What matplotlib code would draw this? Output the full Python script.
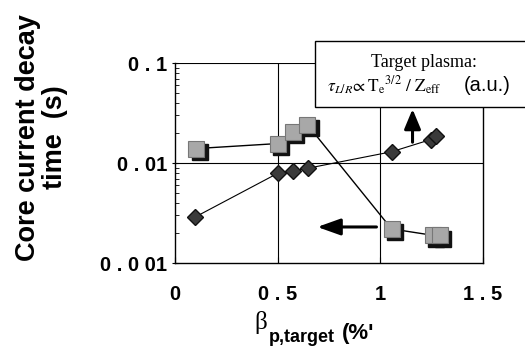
import matplotlib
matplotlib.use("Agg")
import matplotlib.pyplot as plt
import matplotlib.transforms as mtransforms
from matplotlib.patches import Rectangle
from matplotlib.ticker import LogLocator, NullFormatter, FixedLocator

# core current decay time (squares)
beta_sq = [0.105, 0.50, 0.575, 0.645, 1.055, 1.255, 1.29]
tau_sq = [0.014, 0.0157, 0.0205, 0.0243, 0.0022, 0.0019, 0.0019]

# target plasma tau_L/R (diamonds)
beta_dm = [0.10, 0.50, 0.575, 0.648, 1.055, 1.245, 1.27]
tau_dm = [0.0029, 0.0079, 0.0084, 0.0089, 0.013, 0.0172, 0.0188]

x_ticks = [0, 0.5, 1, 1.5]
x_labels = ["0", "0 . 5", "1", "1 . 5"]
y_ticks = [0.001, 0.01, 0.1]
y_labels = ["0 . 0 01", "0 . 01", "0 . 1"]

plt.rcParams['mathtext.fontset'] = 'stix'

fig = plt.figure(figsize=(5.25, 3.49), dpi=100)
ax = fig.add_axes([0.333, 0.246, 0.587, 0.573])
ax.set_yscale('log')
ax.set_xlim(0, 1.5)
ax.set_ylim(0.001, 0.1)

# grid
for x in [0.5, 1.0]:
    ax.axvline(x, color='black', lw=0.8, zorder=1)
ax.axhline(0.01, color='black', lw=0.8, zorder=1)
ax.axhline(0.1, color='black', lw=0.8, zorder=1)

# lines
ax.plot(beta_sq, tau_sq, color='black', lw=1.0, zorder=2)
ax.plot(beta_dm, tau_dm, color='black', lw=0.8, zorder=2)

# shadows then markers
shadow = ax.transData + mtransforms.ScaledTranslation(2.5 / 72, -2.5 / 72, fig.dpi_scale_trans)
ax.plot(beta_sq, tau_sq, ls='none', marker='s', ms=11, mfc='#111111', mec='#111111',
        transform=shadow, zorder=3)
ax.plot(beta_sq, tau_sq, ls='none', marker='s', ms=11, mfc='#a8a8a8', mec='#777777',
        mew=0.8, zorder=4)
ax.plot(beta_dm, tau_dm, ls='none', marker='D', ms=8.5, mfc='#3a3a3a', mec='#111111',
        mew=1.0, zorder=4)

# arrows
ax.annotate('', xy=(1.157, 0.037), xytext=(1.157, 0.0152),
            arrowprops=dict(arrowstyle='-|>,head_width=0.5,head_length=1.2',
                            color='black', lw=2.2), zorder=5)
ax.annotate('', xy=(0.68, 0.0023), xytext=(0.995, 0.0023),
            arrowprops=dict(arrowstyle='-|>,head_width=0.5,head_length=1.4',
                            color='black', lw=2.2), zorder=5)

# axes style
ax.spines['top'].set_visible(False)
for s in ['left', 'bottom', 'right']:
    ax.spines[s].set_linewidth(1.0)

ax.xaxis.set_major_locator(FixedLocator(x_ticks))
ax.set_xticklabels(x_labels, fontsize=14.5, fontweight='bold', family='Liberation Sans')
ax.tick_params(axis='x', which='major', length=4, direction='in', pad=16)
ax.yaxis.set_major_locator(FixedLocator(y_ticks))
ax.set_yticklabels(y_labels, fontsize=14.5, fontweight='bold', family='Liberation Sans')
ax.yaxis.set_minor_locator(LogLocator(base=10, subs=range(2, 10)))
ax.yaxis.set_minor_formatter(NullFormatter())
ax.tick_params(axis='y', which='major', length=5, direction='inout', pad=3)
ax.tick_params(axis='y', which='minor', length=3, direction='in')

# y label
fig.text(0.08, 0.606, "Core current decay\ntime  (s)", rotation=90, ha='center', va='center',
         multialignment='center', fontsize=19.5, fontweight='bold', family='Liberation Sans',
         linespacing=1.05)

# x label
fig.text(0.497, 0.075, "β", fontsize=18, family='Liberation Serif', ha='center', va='center')
fig.text(0.512, 0.032, "p,target", fontsize=13, fontweight='bold', family='Liberation Sans',
         ha='left', va='center')
fig.text(0.652, 0.045, "(%'", fontsize=16, fontweight='bold', family='Liberation Sans',
         ha='left', va='center')

# legend box
fig.patches.append(Rectangle((0.6, 0.693), 0.45, 0.19, transform=fig.transFigure,
                             facecolor='white', edgecolor='black', lw=1.0, zorder=10))
fig.text(0.808, 0.822, "Target plasma:", fontsize=13, family='Liberation Serif',
         ha='center', va='center', zorder=11)
fig.text(0.622, 0.755, r"$\tau_{L/R}\!\propto\mathrm{T_e}^{3/2}\ /\ \mathrm{Z_{eff}}$",
         fontsize=12.5, ha='left', va='center', zorder=11)
fig.text(0.884, 0.755, "(a.u.)", fontsize=14.5, family='Liberation Sans',
         ha='left', va='center', zorder=11)

fig.savefig('out.png', dpi=100)
